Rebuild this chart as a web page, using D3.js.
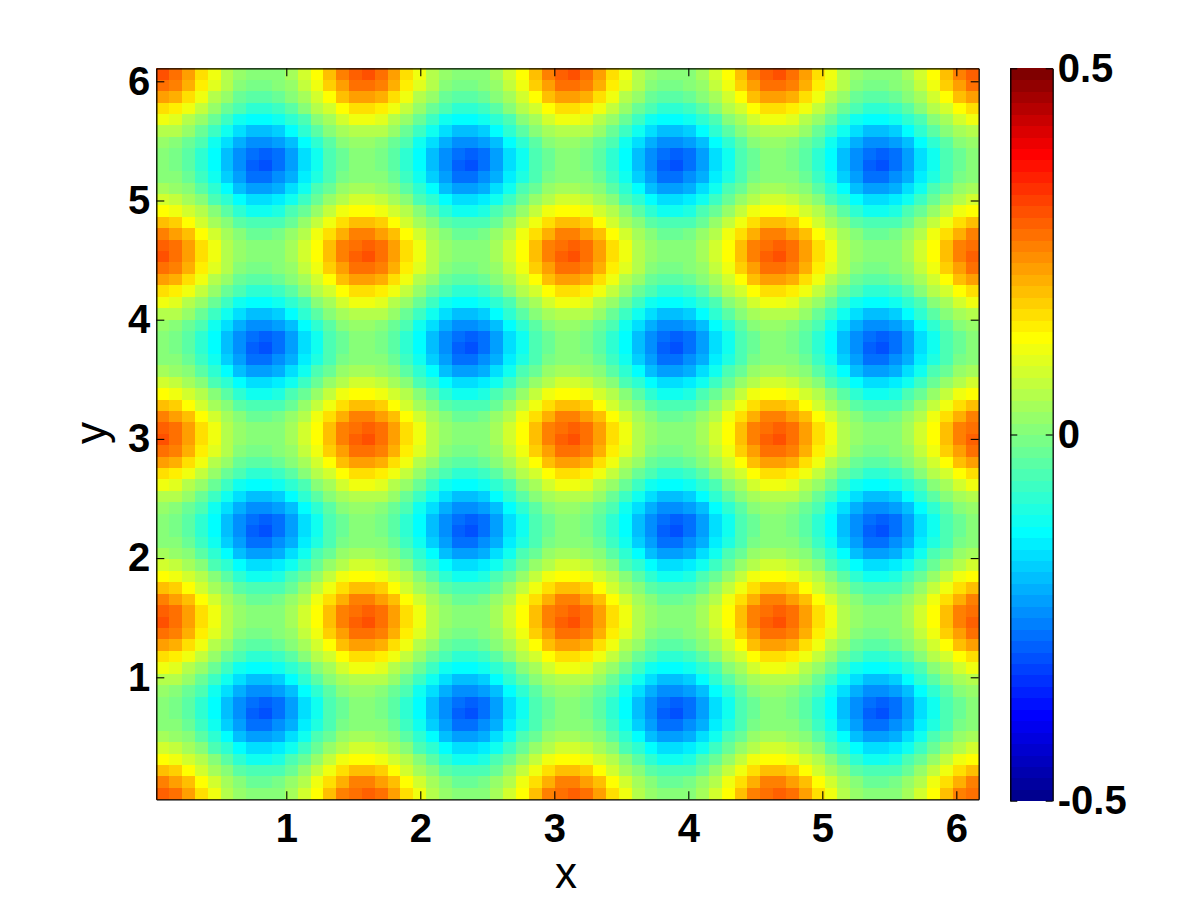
<!DOCTYPE html>
<html><head><meta charset="utf-8">
<script src="https://cdn.jsdelivr.net/npm/d3@7"></script>
<style>html,body{margin:0;padding:0;background:#fff}svg{display:block}</style>
</head><body><svg id="c" width="1200" height="900"></svg>
<script>
// Estimated values, in hundredths; first row = top of the plot.
const grid = [
[30,27,23,17,11,6,3,0,0,1,4,9,14,20,25,29,30,27,23,17,11,6,3,0,0,1,4,9,14,20,25,29,30,27,23,17,11,6,3,0,0,1,4,9,14,20,25,29,30,27,23,17,11,6,3,0,0,1,4,9,14,20,25,29],
[27,25,21,15,10,5,1,-1,-1,0,3,7,12,18,23,27,27,25,21,15,10,5,1,-1,-1,0,3,7,12,18,23,27,27,25,21,15,10,5,1,-1,-1,0,3,7,12,18,23,27,27,25,21,15,10,5,1,-1,-1,0,3,7,12,18,23,27],
[23,21,16,11,6,2,-2,-4,-4,-3,0,4,9,14,19,22,23,21,16,11,6,2,-2,-4,-4,-3,0,4,9,14,19,22,23,21,16,11,6,2,-2,-4,-4,-3,0,4,9,14,19,22,23,21,16,11,6,2,-2,-4,-4,-3,0,4,9,14,19,22],
[17,15,11,7,2,-2,-6,-8,-9,-7,-4,0,5,9,13,16,17,15,11,7,2,-2,-6,-8,-9,-7,-4,0,5,9,13,16,17,15,11,7,2,-2,-6,-8,-9,-7,-4,0,5,9,13,16,17,15,11,7,2,-2,-6,-8,-9,-7,-4,0,5,9,13,16],
[11,10,6,2,-2,-7,-11,-13,-14,-12,-9,-5,0,4,8,11,11,10,6,2,-2,-7,-11,-13,-14,-12,-9,-5,0,4,8,11,11,10,6,2,-2,-7,-11,-13,-14,-12,-9,-5,0,4,8,11,11,10,6,2,-2,-7,-11,-13,-14,-12,-9,-5,0,4,8,11],
[6,5,2,-2,-7,-12,-16,-19,-20,-18,-14,-9,-4,0,4,6,6,5,2,-2,-7,-12,-16,-19,-20,-18,-14,-9,-4,0,4,6,6,5,2,-2,-7,-12,-16,-19,-20,-18,-14,-9,-4,0,4,6,6,5,2,-2,-7,-12,-16,-19,-20,-18,-14,-9,-4,0,4,6],
[3,1,-2,-6,-11,-16,-21,-25,-25,-23,-19,-13,-8,-4,0,2,3,1,-2,-6,-11,-16,-21,-25,-25,-23,-19,-13,-8,-4,0,2,3,1,-2,-6,-11,-16,-21,-25,-25,-23,-19,-13,-8,-4,0,2,3,1,-2,-6,-11,-16,-21,-25,-25,-23,-19,-13,-8,-4,0,2],
[0,-1,-4,-8,-13,-19,-25,-28,-29,-27,-22,-16,-11,-6,-2,0,0,-1,-4,-8,-13,-19,-25,-28,-29,-27,-22,-16,-11,-6,-2,0,0,-1,-4,-8,-13,-19,-25,-28,-29,-27,-22,-16,-11,-6,-2,0,0,-1,-4,-8,-13,-19,-25,-28,-29,-27,-22,-16,-11,-6,-2,0],
[0,-1,-4,-9,-14,-20,-25,-29,-30,-27,-23,-17,-11,-6,-3,0,0,-1,-4,-9,-14,-20,-25,-29,-30,-27,-23,-17,-11,-6,-3,0,0,-1,-4,-9,-14,-20,-25,-29,-30,-27,-23,-17,-11,-6,-3,0,0,-1,-4,-9,-14,-20,-25,-29,-30,-27,-23,-17,-11,-6,-3,0],
[1,0,-3,-7,-12,-18,-23,-27,-27,-25,-21,-15,-10,-5,-1,1,1,0,-3,-7,-12,-18,-23,-27,-27,-25,-21,-15,-10,-5,-1,1,1,0,-3,-7,-12,-18,-23,-27,-27,-25,-21,-15,-10,-5,-1,1,1,0,-3,-7,-12,-18,-23,-27,-27,-25,-21,-15,-10,-5,-1,1],
[4,3,0,-4,-9,-14,-19,-22,-23,-21,-16,-11,-6,-2,2,4,4,3,0,-4,-9,-14,-19,-22,-23,-21,-16,-11,-6,-2,2,4,4,3,0,-4,-9,-14,-19,-22,-23,-21,-16,-11,-6,-2,2,4,4,3,0,-4,-9,-14,-19,-22,-23,-21,-16,-11,-6,-2,2,4],
[9,7,4,0,-5,-9,-13,-16,-17,-15,-11,-7,-2,2,6,8,9,7,4,0,-5,-9,-13,-16,-17,-15,-11,-7,-2,2,6,8,9,7,4,0,-5,-9,-13,-16,-17,-15,-11,-7,-2,2,6,8,9,7,4,0,-5,-9,-13,-16,-17,-15,-11,-7,-2,2,6,8],
[14,12,9,5,0,-4,-8,-11,-11,-10,-6,-2,2,7,11,13,14,12,9,5,0,-4,-8,-11,-11,-10,-6,-2,2,7,11,13,14,12,9,5,0,-4,-8,-11,-11,-10,-6,-2,2,7,11,13,14,12,9,5,0,-4,-8,-11,-11,-10,-6,-2,2,7,11,13],
[20,18,14,9,4,0,-4,-6,-6,-5,-2,2,7,12,16,19,20,18,14,9,4,0,-4,-6,-6,-5,-2,2,7,12,16,19,20,18,14,9,4,0,-4,-6,-6,-5,-2,2,7,12,16,19,20,18,14,9,4,0,-4,-6,-6,-5,-2,2,7,12,16,19],
[25,23,19,13,8,4,0,-2,-3,-1,2,6,11,16,21,25,25,23,19,13,8,4,0,-2,-3,-1,2,6,11,16,21,25,25,23,19,13,8,4,0,-2,-3,-1,2,6,11,16,21,25,25,23,19,13,8,4,0,-2,-3,-1,2,6,11,16,21,25],
[29,27,22,16,11,6,2,0,0,1,4,8,13,19,25,28,29,27,22,16,11,6,2,0,0,1,4,8,13,19,25,28,29,27,22,16,11,6,2,0,0,1,4,8,13,19,25,28,29,27,22,16,11,6,2,0,0,1,4,8,13,19,25,28],
[30,27,23,17,11,6,3,0,0,1,4,9,14,20,25,29,30,27,23,17,11,6,3,0,0,1,4,9,14,20,25,29,30,27,23,17,11,6,3,0,0,1,4,9,14,20,25,29,30,27,23,17,11,6,3,0,0,1,4,9,14,20,25,29],
[27,25,21,15,10,5,1,-1,-1,0,3,7,12,18,23,27,27,25,21,15,10,5,1,-1,-1,0,3,7,12,18,23,27,27,25,21,15,10,5,1,-1,-1,0,3,7,12,18,23,27,27,25,21,15,10,5,1,-1,-1,0,3,7,12,18,23,27],
[23,21,16,11,6,2,-2,-4,-4,-3,0,4,9,14,19,22,23,21,16,11,6,2,-2,-4,-4,-3,0,4,9,14,19,22,23,21,16,11,6,2,-2,-4,-4,-3,0,4,9,14,19,22,23,21,16,11,6,2,-2,-4,-4,-3,0,4,9,14,19,22],
[17,15,11,7,2,-2,-6,-8,-9,-7,-4,0,5,9,13,16,17,15,11,7,2,-2,-6,-8,-9,-7,-4,0,5,9,13,16,17,15,11,7,2,-2,-6,-8,-9,-7,-4,0,5,9,13,16,17,15,11,7,2,-2,-6,-8,-9,-7,-4,0,5,9,13,16],
[11,10,6,2,-2,-7,-11,-13,-14,-12,-9,-5,0,4,8,11,11,10,6,2,-2,-7,-11,-13,-14,-12,-9,-5,0,4,8,11,11,10,6,2,-2,-7,-11,-13,-14,-12,-9,-5,0,4,8,11,11,10,6,2,-2,-7,-11,-13,-14,-12,-9,-5,0,4,8,11],
[6,5,2,-2,-7,-12,-16,-19,-20,-18,-14,-9,-4,0,4,6,6,5,2,-2,-7,-12,-16,-19,-20,-18,-14,-9,-4,0,4,6,6,5,2,-2,-7,-12,-16,-19,-20,-18,-14,-9,-4,0,4,6,6,5,2,-2,-7,-12,-16,-19,-20,-18,-14,-9,-4,0,4,6],
[3,1,-2,-6,-11,-16,-21,-25,-25,-23,-19,-13,-8,-4,0,2,3,1,-2,-6,-11,-16,-21,-25,-25,-23,-19,-13,-8,-4,0,2,3,1,-2,-6,-11,-16,-21,-25,-25,-23,-19,-13,-8,-4,0,2,3,1,-2,-6,-11,-16,-21,-25,-25,-23,-19,-13,-8,-4,0,2],
[0,-1,-4,-8,-13,-19,-25,-28,-29,-27,-22,-16,-11,-6,-2,0,0,-1,-4,-8,-13,-19,-25,-28,-29,-27,-22,-16,-11,-6,-2,0,0,-1,-4,-8,-13,-19,-25,-28,-29,-27,-22,-16,-11,-6,-2,0,0,-1,-4,-8,-13,-19,-25,-28,-29,-27,-22,-16,-11,-6,-2,0],
[0,-1,-4,-9,-14,-20,-25,-29,-30,-27,-23,-17,-11,-6,-3,0,0,-1,-4,-9,-14,-20,-25,-29,-30,-27,-23,-17,-11,-6,-3,0,0,-1,-4,-9,-14,-20,-25,-29,-30,-27,-23,-17,-11,-6,-3,0,0,-1,-4,-9,-14,-20,-25,-29,-30,-27,-23,-17,-11,-6,-3,0],
[1,0,-3,-7,-12,-18,-23,-27,-27,-25,-21,-15,-10,-5,-1,1,1,0,-3,-7,-12,-18,-23,-27,-27,-25,-21,-15,-10,-5,-1,1,1,0,-3,-7,-12,-18,-23,-27,-27,-25,-21,-15,-10,-5,-1,1,1,0,-3,-7,-12,-18,-23,-27,-27,-25,-21,-15,-10,-5,-1,1],
[4,3,0,-4,-9,-14,-19,-22,-23,-21,-16,-11,-6,-2,2,4,4,3,0,-4,-9,-14,-19,-22,-23,-21,-16,-11,-6,-2,2,4,4,3,0,-4,-9,-14,-19,-22,-23,-21,-16,-11,-6,-2,2,4,4,3,0,-4,-9,-14,-19,-22,-23,-21,-16,-11,-6,-2,2,4],
[9,7,4,0,-5,-9,-13,-16,-17,-15,-11,-7,-2,2,6,8,9,7,4,0,-5,-9,-13,-16,-17,-15,-11,-7,-2,2,6,8,9,7,4,0,-5,-9,-13,-16,-17,-15,-11,-7,-2,2,6,8,9,7,4,0,-5,-9,-13,-16,-17,-15,-11,-7,-2,2,6,8],
[14,12,9,5,0,-4,-8,-11,-11,-10,-6,-2,2,7,11,13,14,12,9,5,0,-4,-8,-11,-11,-10,-6,-2,2,7,11,13,14,12,9,5,0,-4,-8,-11,-11,-10,-6,-2,2,7,11,13,14,12,9,5,0,-4,-8,-11,-11,-10,-6,-2,2,7,11,13],
[20,18,14,9,4,0,-4,-6,-6,-5,-2,2,7,12,16,19,20,18,14,9,4,0,-4,-6,-6,-5,-2,2,7,12,16,19,20,18,14,9,4,0,-4,-6,-6,-5,-2,2,7,12,16,19,20,18,14,9,4,0,-4,-6,-6,-5,-2,2,7,12,16,19],
[25,23,19,13,8,4,0,-2,-3,-1,2,6,11,16,21,25,25,23,19,13,8,4,0,-2,-3,-1,2,6,11,16,21,25,25,23,19,13,8,4,0,-2,-3,-1,2,6,11,16,21,25,25,23,19,13,8,4,0,-2,-3,-1,2,6,11,16,21,25],
[29,27,22,16,11,6,2,0,0,1,4,8,13,19,25,28,29,27,22,16,11,6,2,0,0,1,4,8,13,19,25,28,29,27,22,16,11,6,2,0,0,1,4,8,13,19,25,28,29,27,22,16,11,6,2,0,0,1,4,8,13,19,25,28],
[30,27,23,17,11,6,3,0,0,1,4,9,14,20,25,29,30,27,23,17,11,6,3,0,0,1,4,9,14,20,25,29,30,27,23,17,11,6,3,0,0,1,4,9,14,20,25,29,30,27,23,17,11,6,3,0,0,1,4,9,14,20,25,29],
[27,25,21,15,10,5,1,-1,-1,0,3,7,12,18,23,27,27,25,21,15,10,5,1,-1,-1,0,3,7,12,18,23,27,27,25,21,15,10,5,1,-1,-1,0,3,7,12,18,23,27,27,25,21,15,10,5,1,-1,-1,0,3,7,12,18,23,27],
[23,21,16,11,6,2,-2,-4,-4,-3,0,4,9,14,19,22,23,21,16,11,6,2,-2,-4,-4,-3,0,4,9,14,19,22,23,21,16,11,6,2,-2,-4,-4,-3,0,4,9,14,19,22,23,21,16,11,6,2,-2,-4,-4,-3,0,4,9,14,19,22],
[17,15,11,7,2,-2,-6,-8,-9,-7,-4,0,5,9,13,16,17,15,11,7,2,-2,-6,-8,-9,-7,-4,0,5,9,13,16,17,15,11,7,2,-2,-6,-8,-9,-7,-4,0,5,9,13,16,17,15,11,7,2,-2,-6,-8,-9,-7,-4,0,5,9,13,16],
[11,10,6,2,-2,-7,-11,-13,-14,-12,-9,-5,0,4,8,11,11,10,6,2,-2,-7,-11,-13,-14,-12,-9,-5,0,4,8,11,11,10,6,2,-2,-7,-11,-13,-14,-12,-9,-5,0,4,8,11,11,10,6,2,-2,-7,-11,-13,-14,-12,-9,-5,0,4,8,11],
[6,5,2,-2,-7,-12,-16,-19,-20,-18,-14,-9,-4,0,4,6,6,5,2,-2,-7,-12,-16,-19,-20,-18,-14,-9,-4,0,4,6,6,5,2,-2,-7,-12,-16,-19,-20,-18,-14,-9,-4,0,4,6,6,5,2,-2,-7,-12,-16,-19,-20,-18,-14,-9,-4,0,4,6],
[3,1,-2,-6,-11,-16,-21,-25,-25,-23,-19,-13,-8,-4,0,2,3,1,-2,-6,-11,-16,-21,-25,-25,-23,-19,-13,-8,-4,0,2,3,1,-2,-6,-11,-16,-21,-25,-25,-23,-19,-13,-8,-4,0,2,3,1,-2,-6,-11,-16,-21,-25,-25,-23,-19,-13,-8,-4,0,2],
[0,-1,-4,-8,-13,-19,-25,-28,-29,-27,-22,-16,-11,-6,-2,0,0,-1,-4,-8,-13,-19,-25,-28,-29,-27,-22,-16,-11,-6,-2,0,0,-1,-4,-8,-13,-19,-25,-28,-29,-27,-22,-16,-11,-6,-2,0,0,-1,-4,-8,-13,-19,-25,-28,-29,-27,-22,-16,-11,-6,-2,0],
[0,-1,-4,-9,-14,-20,-25,-29,-30,-27,-23,-17,-11,-6,-3,0,0,-1,-4,-9,-14,-20,-25,-29,-30,-27,-23,-17,-11,-6,-3,0,0,-1,-4,-9,-14,-20,-25,-29,-30,-27,-23,-17,-11,-6,-3,0,0,-1,-4,-9,-14,-20,-25,-29,-30,-27,-23,-17,-11,-6,-3,0],
[1,0,-3,-7,-12,-18,-23,-27,-27,-25,-21,-15,-10,-5,-1,1,1,0,-3,-7,-12,-18,-23,-27,-27,-25,-21,-15,-10,-5,-1,1,1,0,-3,-7,-12,-18,-23,-27,-27,-25,-21,-15,-10,-5,-1,1,1,0,-3,-7,-12,-18,-23,-27,-27,-25,-21,-15,-10,-5,-1,1],
[4,3,0,-4,-9,-14,-19,-22,-23,-21,-16,-11,-6,-2,2,4,4,3,0,-4,-9,-14,-19,-22,-23,-21,-16,-11,-6,-2,2,4,4,3,0,-4,-9,-14,-19,-22,-23,-21,-16,-11,-6,-2,2,4,4,3,0,-4,-9,-14,-19,-22,-23,-21,-16,-11,-6,-2,2,4],
[9,7,4,0,-5,-9,-13,-16,-17,-15,-11,-7,-2,2,6,8,9,7,4,0,-5,-9,-13,-16,-17,-15,-11,-7,-2,2,6,8,9,7,4,0,-5,-9,-13,-16,-17,-15,-11,-7,-2,2,6,8,9,7,4,0,-5,-9,-13,-16,-17,-15,-11,-7,-2,2,6,8],
[14,12,9,5,0,-4,-8,-11,-11,-10,-6,-2,2,7,11,13,14,12,9,5,0,-4,-8,-11,-11,-10,-6,-2,2,7,11,13,14,12,9,5,0,-4,-8,-11,-11,-10,-6,-2,2,7,11,13,14,12,9,5,0,-4,-8,-11,-11,-10,-6,-2,2,7,11,13],
[20,18,14,9,4,0,-4,-6,-6,-5,-2,2,7,12,16,19,20,18,14,9,4,0,-4,-6,-6,-5,-2,2,7,12,16,19,20,18,14,9,4,0,-4,-6,-6,-5,-2,2,7,12,16,19,20,18,14,9,4,0,-4,-6,-6,-5,-2,2,7,12,16,19],
[25,23,19,13,8,4,0,-2,-3,-1,2,6,11,16,21,25,25,23,19,13,8,4,0,-2,-3,-1,2,6,11,16,21,25,25,23,19,13,8,4,0,-2,-3,-1,2,6,11,16,21,25,25,23,19,13,8,4,0,-2,-3,-1,2,6,11,16,21,25],
[29,27,22,16,11,6,2,0,0,1,4,8,13,19,25,28,29,27,22,16,11,6,2,0,0,1,4,8,13,19,25,28,29,27,22,16,11,6,2,0,0,1,4,8,13,19,25,28,29,27,22,16,11,6,2,0,0,1,4,8,13,19,25,28],
[30,27,23,17,11,6,3,0,0,1,4,9,14,20,25,29,30,27,23,17,11,6,3,0,0,1,4,9,14,20,25,29,30,27,23,17,11,6,3,0,0,1,4,9,14,20,25,29,30,27,23,17,11,6,3,0,0,1,4,9,14,20,25,29],
[27,25,21,15,10,5,1,-1,-1,0,3,7,12,18,23,27,27,25,21,15,10,5,1,-1,-1,0,3,7,12,18,23,27,27,25,21,15,10,5,1,-1,-1,0,3,7,12,18,23,27,27,25,21,15,10,5,1,-1,-1,0,3,7,12,18,23,27],
[23,21,16,11,6,2,-2,-4,-4,-3,0,4,9,14,19,22,23,21,16,11,6,2,-2,-4,-4,-3,0,4,9,14,19,22,23,21,16,11,6,2,-2,-4,-4,-3,0,4,9,14,19,22,23,21,16,11,6,2,-2,-4,-4,-3,0,4,9,14,19,22],
[17,15,11,7,2,-2,-6,-8,-9,-7,-4,0,5,9,13,16,17,15,11,7,2,-2,-6,-8,-9,-7,-4,0,5,9,13,16,17,15,11,7,2,-2,-6,-8,-9,-7,-4,0,5,9,13,16,17,15,11,7,2,-2,-6,-8,-9,-7,-4,0,5,9,13,16],
[11,10,6,2,-2,-7,-11,-13,-14,-12,-9,-5,0,4,8,11,11,10,6,2,-2,-7,-11,-13,-14,-12,-9,-5,0,4,8,11,11,10,6,2,-2,-7,-11,-13,-14,-12,-9,-5,0,4,8,11,11,10,6,2,-2,-7,-11,-13,-14,-12,-9,-5,0,4,8,11],
[6,5,2,-2,-7,-12,-16,-19,-20,-18,-14,-9,-4,0,4,6,6,5,2,-2,-7,-12,-16,-19,-20,-18,-14,-9,-4,0,4,6,6,5,2,-2,-7,-12,-16,-19,-20,-18,-14,-9,-4,0,4,6,6,5,2,-2,-7,-12,-16,-19,-20,-18,-14,-9,-4,0,4,6],
[3,1,-2,-6,-11,-16,-21,-25,-25,-23,-19,-13,-8,-4,0,2,3,1,-2,-6,-11,-16,-21,-25,-25,-23,-19,-13,-8,-4,0,2,3,1,-2,-6,-11,-16,-21,-25,-25,-23,-19,-13,-8,-4,0,2,3,1,-2,-6,-11,-16,-21,-25,-25,-23,-19,-13,-8,-4,0,2],
[0,-1,-4,-8,-13,-19,-25,-28,-29,-27,-22,-16,-11,-6,-2,0,0,-1,-4,-8,-13,-19,-25,-28,-29,-27,-22,-16,-11,-6,-2,0,0,-1,-4,-8,-13,-19,-25,-28,-29,-27,-22,-16,-11,-6,-2,0,0,-1,-4,-8,-13,-19,-25,-28,-29,-27,-22,-16,-11,-6,-2,0],
[0,-1,-4,-9,-14,-20,-25,-29,-30,-27,-23,-17,-11,-6,-3,0,0,-1,-4,-9,-14,-20,-25,-29,-30,-27,-23,-17,-11,-6,-3,0,0,-1,-4,-9,-14,-20,-25,-29,-30,-27,-23,-17,-11,-6,-3,0,0,-1,-4,-9,-14,-20,-25,-29,-30,-27,-23,-17,-11,-6,-3,0],
[1,0,-3,-7,-12,-18,-23,-27,-27,-25,-21,-15,-10,-5,-1,1,1,0,-3,-7,-12,-18,-23,-27,-27,-25,-21,-15,-10,-5,-1,1,1,0,-3,-7,-12,-18,-23,-27,-27,-25,-21,-15,-10,-5,-1,1,1,0,-3,-7,-12,-18,-23,-27,-27,-25,-21,-15,-10,-5,-1,1],
[4,3,0,-4,-9,-14,-19,-22,-23,-21,-16,-11,-6,-2,2,4,4,3,0,-4,-9,-14,-19,-22,-23,-21,-16,-11,-6,-2,2,4,4,3,0,-4,-9,-14,-19,-22,-23,-21,-16,-11,-6,-2,2,4,4,3,0,-4,-9,-14,-19,-22,-23,-21,-16,-11,-6,-2,2,4],
[9,7,4,0,-5,-9,-13,-16,-17,-15,-11,-7,-2,2,6,8,9,7,4,0,-5,-9,-13,-16,-17,-15,-11,-7,-2,2,6,8,9,7,4,0,-5,-9,-13,-16,-17,-15,-11,-7,-2,2,6,8,9,7,4,0,-5,-9,-13,-16,-17,-15,-11,-7,-2,2,6,8],
[14,12,9,5,0,-4,-8,-11,-11,-10,-6,-2,2,7,11,13,14,12,9,5,0,-4,-8,-11,-11,-10,-6,-2,2,7,11,13,14,12,9,5,0,-4,-8,-11,-11,-10,-6,-2,2,7,11,13,14,12,9,5,0,-4,-8,-11,-11,-10,-6,-2,2,7,11,13],
[20,18,14,9,4,0,-4,-6,-6,-5,-2,2,7,12,16,19,20,18,14,9,4,0,-4,-6,-6,-5,-2,2,7,12,16,19,20,18,14,9,4,0,-4,-6,-6,-5,-2,2,7,12,16,19,20,18,14,9,4,0,-4,-6,-6,-5,-2,2,7,12,16,19],
[25,23,19,13,8,4,0,-2,-3,-1,2,6,11,16,21,25,25,23,19,13,8,4,0,-2,-3,-1,2,6,11,16,21,25,25,23,19,13,8,4,0,-2,-3,-1,2,6,11,16,21,25,25,23,19,13,8,4,0,-2,-3,-1,2,6,11,16,21,25],
[29,27,22,16,11,6,2,0,0,1,4,8,13,19,25,28,29,27,22,16,11,6,2,0,0,1,4,8,13,19,25,28,29,27,22,16,11,6,2,0,0,1,4,8,13,19,25,28,29,27,22,16,11,6,2,0,0,1,4,8,13,19,25,28]
];
const xTicks = [1,2,3,4,5,6];
const yTicks = [1,2,3,4,5,6];
const barTicks = [-0.5,0,0.5];
const xLabel = "x", yLabel = "y";
const barLevels = d3.range(64);
const jetStops = [0,7,23,40,56,63];
const jetColors = ["#00008f","#0000ff","#00ffff","#ffff00","#ff0000","#800000"];

const svg = d3.select("#c");
const FONT = "'Liberation Sans',Arial,sans-serif";
const L=156.3,R=978.7,T=68.3,B=799.3;
const BL=1010.3,BR=1052.7,BT=68.3,BB=800.7;

const x = d3.scaleLinear().domain([0.03,6.167]).range([L,R]);
const y = d3.scaleLinear().domain([-0.0235,6.109]).range([B,T]);
const col = d3.scaleBand().domain(d3.range(grid[0].length)).range([L,R]);
const row = d3.scaleBand().domain(d3.range(grid.length)).range([T,B]);
const jet = d3.scaleLinear().domain(jetStops).range(jetColors).interpolate(d3.interpolateRgb);
const level = d3.scaleQuantize().domain([-0.5,0.5]).range(barLevels);

// heat map cells
svg.append("g").attr("shape-rendering","crispEdges")
  .selectAll("g").data(grid).join("g")
  .attr("transform",(d,i)=>`translate(0,${row(i)})`)
  .selectAll("rect").data(d=>d).join("rect")
  .attr("x",(d,i)=>col(i))
  .attr("width",col.bandwidth()+0.6)
  .attr("height",row.bandwidth()+0.6)
  .attr("fill",d=>jet(level(d/100)));

// colour bar
const barBand = d3.scaleBand().domain(barLevels).range([BB,BT]);
svg.append("g").attr("shape-rendering","crispEdges")
  .selectAll("rect").data(barLevels).join("rect")
  .attr("x",BL).attr("width",BR-BL)
  .attr("y",d=>barBand(d)).attr("height",barBand.bandwidth()+0.6)
  .attr("fill",d=>jet(d));

function style(g,size){
  g.selectAll("path.domain").attr("stroke","#000").attr("stroke-width",1.3).attr("fill","none");
  g.selectAll(".tick line").attr("stroke","#000").attr("stroke-width",1.1);
  g.selectAll("text").attr("font-family",FONT).attr("font-weight","bold").attr("font-size",size).attr("fill","#000");
}
const TS=40;
svg.append("g").attr("transform",`translate(0,${B})`)
  .call(d3.axisBottom(x).tickValues(xTicks).tickSize(-8).tickPadding(14).tickSizeOuter(0).tickFormat(String)).call(style,TS);
svg.append("g").attr("transform",`translate(0,${T})`)
  .call(d3.axisTop(x).tickValues(xTicks).tickSize(-8).tickSizeOuter(0).tickFormat("")).call(style,TS);
svg.append("g").attr("transform",`translate(${L},0)`)
  .call(d3.axisLeft(y).tickValues(yTicks).tickSize(-8).tickPadding(6).tickSizeOuter(0).tickFormat(String)).call(style,TS);
svg.append("g").attr("transform",`translate(${R},0)`)
  .call(d3.axisRight(y).tickValues(yTicks).tickSize(-8).tickSizeOuter(0).tickFormat("")).call(style,TS);

const barScale = d3.scaleLinear().domain([-0.5,0.5]).range([BB,BT]);
svg.append("g").attr("transform",`translate(${BR},0)`)
  .call(d3.axisRight(barScale).tickValues(barTicks).tickSize(-7).tickPadding(5).tickSizeOuter(0).tickFormat(String)).call(style,TS);
svg.append("g").attr("transform",`translate(${BL},0)`)
  .call(d3.axisLeft(barScale).tickValues(barTicks).tickSize(-7).tickSizeOuter(0).tickFormat("")).call(style,TS);

svg.append("text").attr("x",566).attr("y",888).attr("text-anchor","middle")
  .attr("font-family",FONT).attr("font-size",44).attr("fill","#000").text(xLabel);
svg.append("text").attr("transform","translate(106,433) rotate(-90)").attr("text-anchor","middle")
  .attr("font-family",FONT).attr("font-size",44).attr("fill","#000").text(yLabel);
</script></body></html>
